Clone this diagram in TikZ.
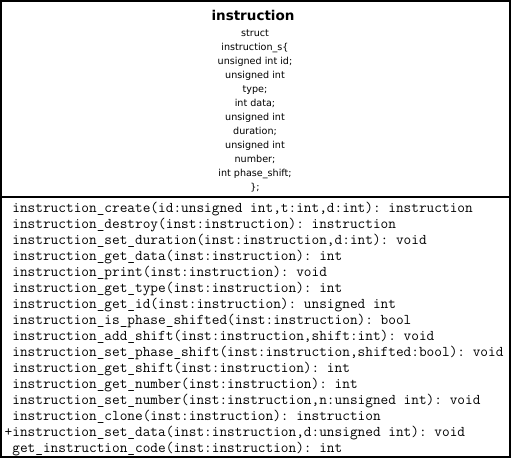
\documentclass[tikz,border=0pt]{standalone}
\usepackage{fontspec}
\setmainfont{DejaVu Sans}
\frenchspacing
\tikzset{
  boxline/.style={line width=2pt, draw=black},
  titletext/.style={font=\bfseries\fontsize{13.5}{15}\selectfont, inner sep=0pt, anchor=base},
  attrtext/.style={font=\fontsize{9.6}{11}\selectfont, inner sep=0pt, anchor=base},
  methtext/.style={font=\ttfamily\fontsize{14.9}{16}\selectfont, inner sep=0pt, anchor=base west}
}
\begin{document}
\begin{tikzpicture}[x=1pt,y=-1pt]
\useasboundingbox (0,0) rectangle (512,458);
\draw[boxline] (1,1) rectangle (510,457);
\coordinate (sepL) at (1,197);
\coordinate (sepR) at (510,197);
\draw[boxline] (sepL) -- (sepR);
\node[titletext] (title) at (253,20) {instruction};
\foreach \t [count=\i] in {
  struct,
  instruction\_s\{,
  unsigned int id;,
  unsigned int,
  type;,
  int data;,
  unsigned int,
  duration;,
  unsigned int,
  number;,
  int phase\_shift;,
  \};}
  \node[attrtext] (a\i) at (255,{36+14*(\i-1)}) {\t};
\foreach \t [count=\i] in {
  \hphantom{+}instruction\_create(id:unsigned int{,}t:int{,}d:int): instruction,
  \hphantom{+}instruction\_destroy(inst:instruction): instruction,
  \hphantom{+}instruction\_set\_duration(inst:instruction{,}d:int): void,
  \hphantom{+}instruction\_get\_data(inst:instruction): int,
  \hphantom{+}instruction\_print(inst:instruction): void,
  \hphantom{+}instruction\_get\_type(inst:instruction): int,
  \hphantom{+}instruction\_get\_id(inst:instruction): unsigned int,
  \hphantom{+}instruction\_is\_phase\_shifted(inst:instruction): bool,
  \hphantom{+}instruction\_add\_shift(inst:instruction{,}shift:int): void,
  \hphantom{+}instruction\_set\_phase\_shift(inst:instruction{,}shifted:bool): void,
  \hphantom{+}instruction\_get\_shift(inst:instruction): int,
  \hphantom{+}instruction\_get\_number(inst:instruction): int,
  \hphantom{+}instruction\_set\_number(inst:instruction{,}n:unsigned int): void,
  \hphantom{+}instruction\_clone(inst:instruction): instruction,
  +instruction\_set\_data(inst:instruction{,}d:unsigned int): void,
  \hphantom{+}get\_instruction\_code(inst:instruction): int}
  \node[methtext] (m\i) at (4.5,{212+16*(\i-1)}) {\t};
\end{tikzpicture}
\end{document}
